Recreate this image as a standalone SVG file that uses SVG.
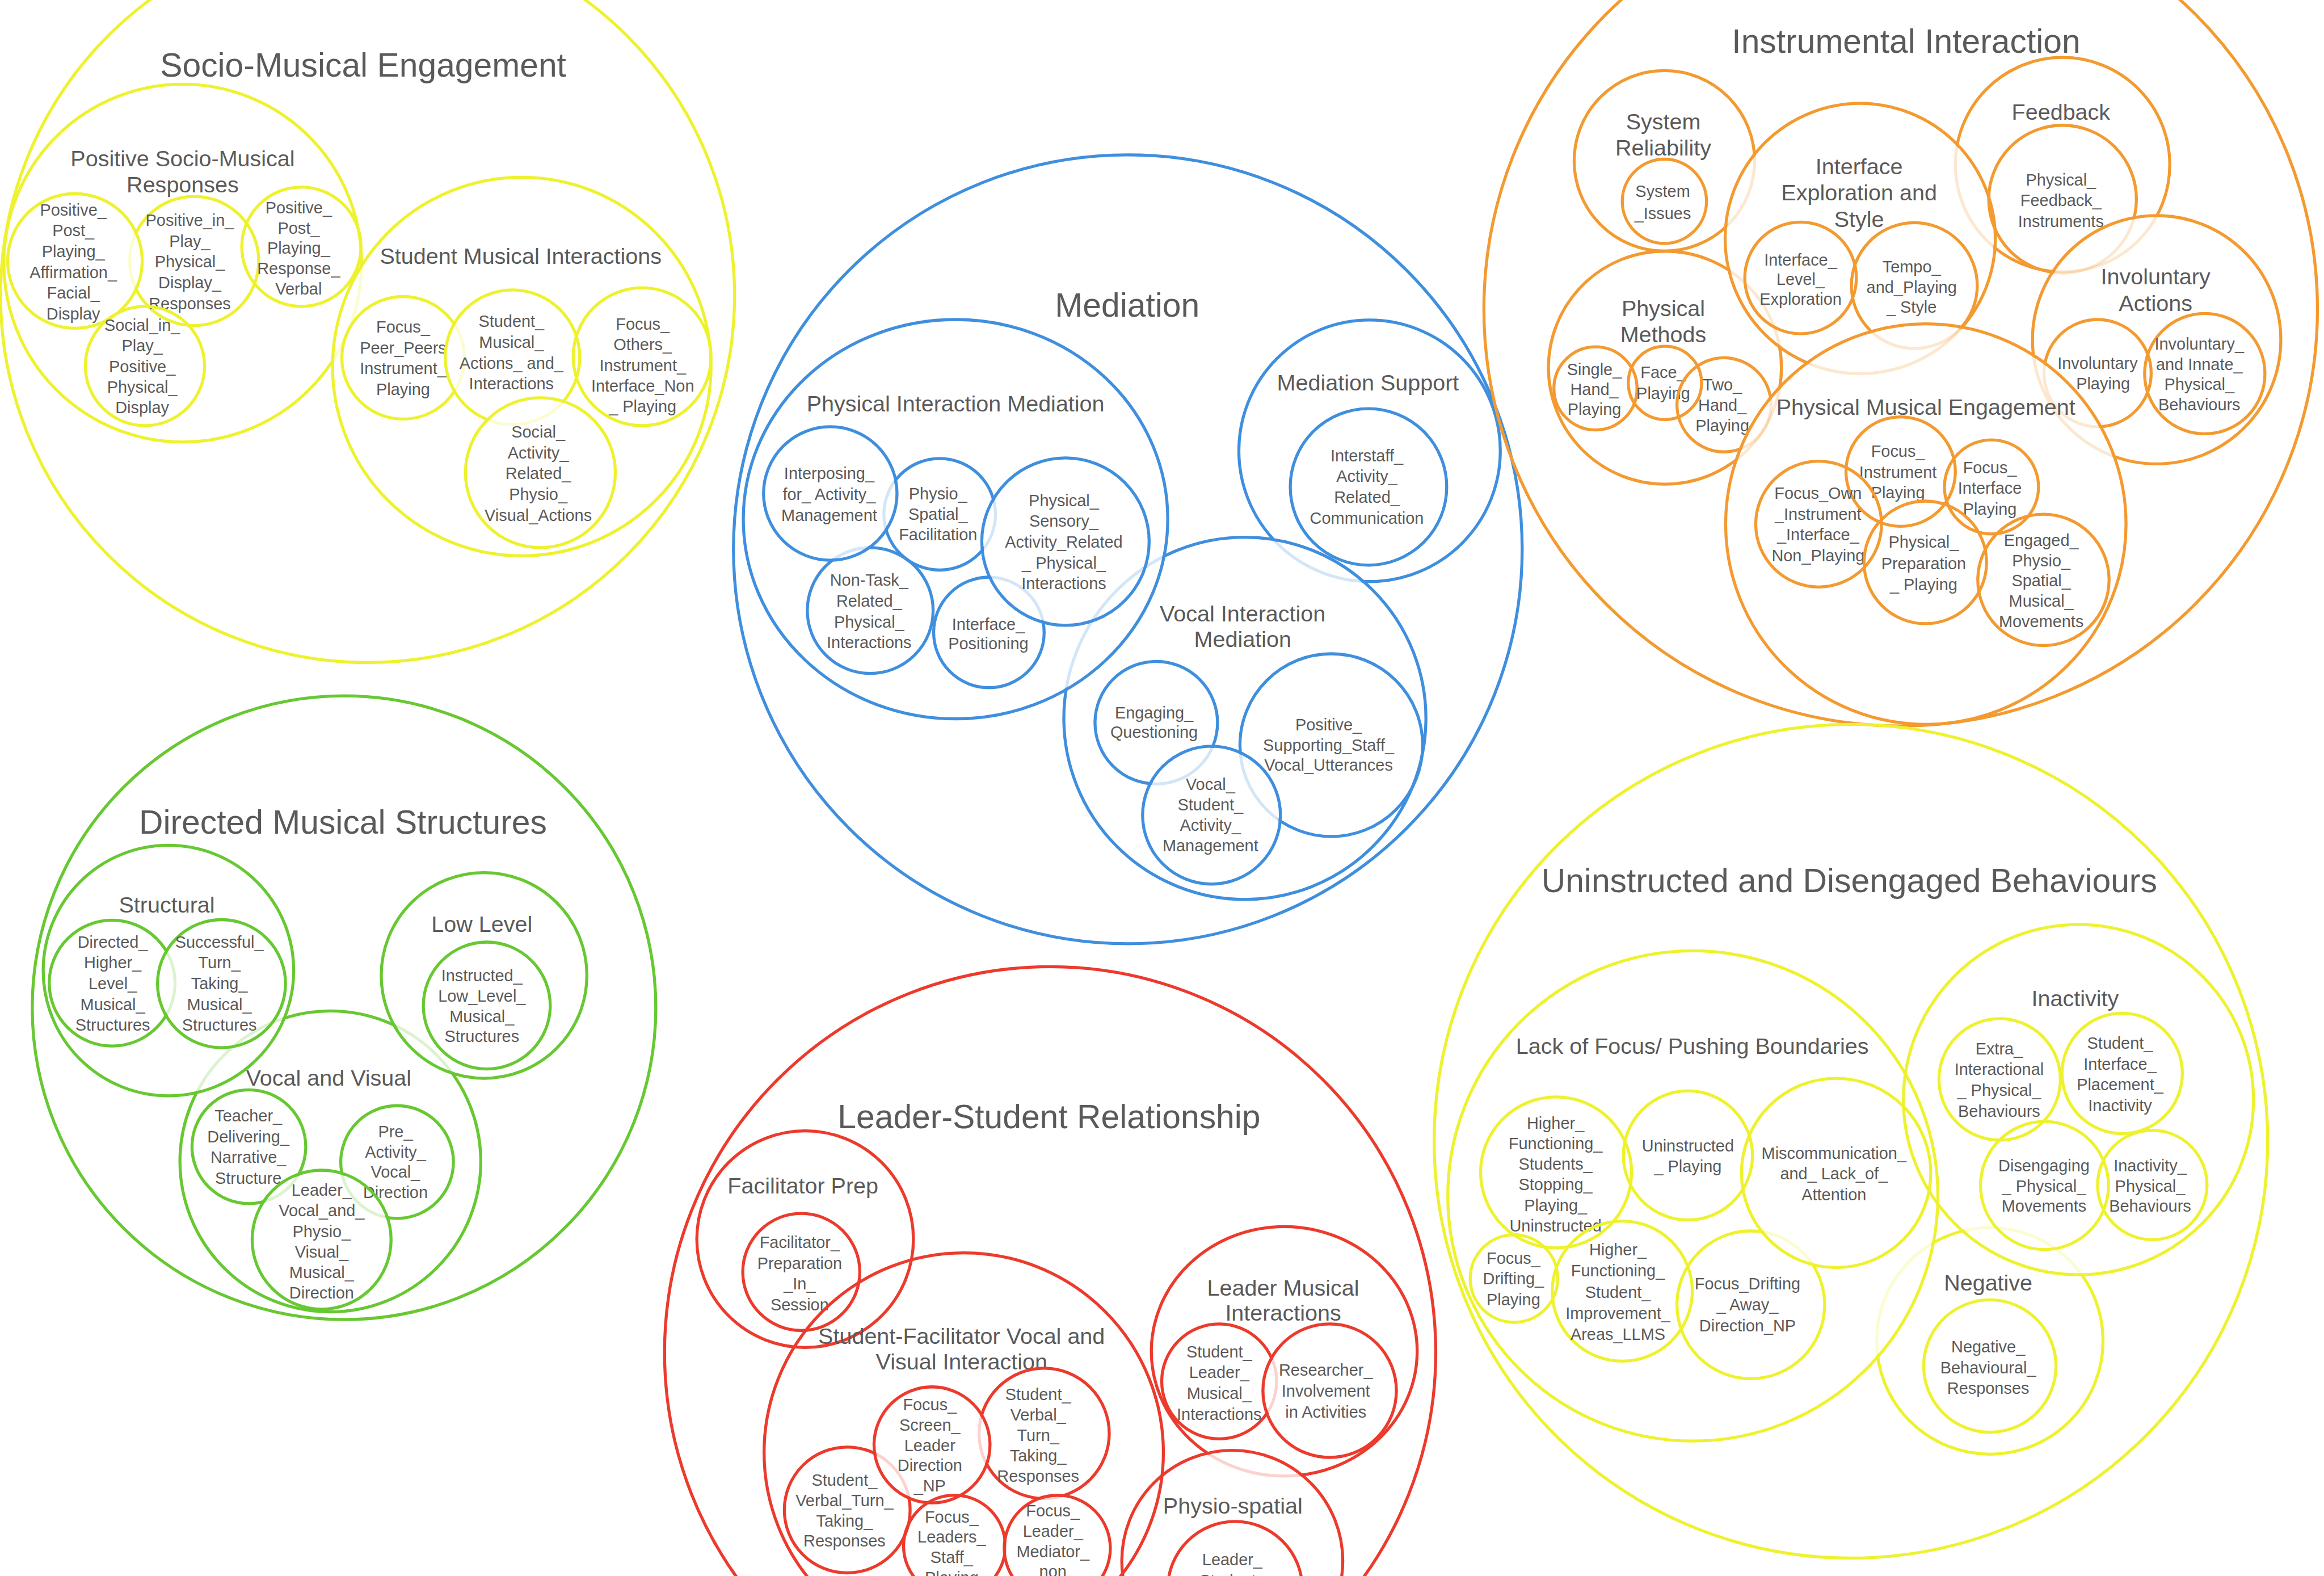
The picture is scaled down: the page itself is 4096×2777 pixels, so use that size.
<svg xmlns="http://www.w3.org/2000/svg" width="4096" height="2777" viewBox="0 0 4096 2777">
<style>
  circle, ellipse { fill: none; stroke-width: 5.5; }
  .y circle, .y ellipse { stroke: #eef22e; }
  .o circle, .o ellipse { stroke: #f39a30; }
  .b circle, .b ellipse { stroke: #3f8fde; }
  .g circle, .g ellipse { stroke: #67c832; }
  .r circle, .r ellipse { stroke: #ec3a2c; }
  mask rect { fill: #ffffff; }
  mask circle, mask ellipse { fill: #3a3a3a; stroke: none; }
  text { font-family: "Liberation Sans", Arial, Helvetica, sans-serif; fill: #5a5a5a; text-anchor: middle; }
  .t1 { font-size: 61px; }
  .t2 { font-size: 41px; }
  .t3 { font-size: 30px; }
</style>
<defs>
  <!-- outlines fade where they pass beneath a later, overlapping circle -->
  <mask id="m-psmr" maskUnits="userSpaceOnUse" x="-100" y="-100" width="4500" height="3200"><rect x="-100" y="-100" width="4500" height="3200"/><circle cx="954" cy="670" r="343"/></mask>
  <mask id="m-leaf2" maskUnits="userSpaceOnUse" x="-100" y="-100" width="4500" height="3200"><rect x="-100" y="-100" width="4500" height="3200"/><circle cx="137" cy="477" r="120"/></mask>
  <mask id="m-leaf5" maskUnits="userSpaceOnUse" x="-100" y="-100" width="4500" height="3200"><rect x="-100" y="-100" width="4500" height="3200"/><circle cx="937" cy="653" r="120"/></mask>
  <mask id="m-leaf6" maskUnits="userSpaceOnUse" x="-100" y="-100" width="4500" height="3200"><rect x="-100" y="-100" width="4500" height="3200"/><circle cx="988" cy="864" r="134"/></mask>
  <mask id="m-physio" maskUnits="userSpaceOnUse" x="-100" y="-100" width="4500" height="3200"><rect x="-100" y="-100" width="4500" height="3200"/><circle cx="1518" cy="902" r="119"/><circle cx="1948" cy="990" r="150"/></mask>
  <mask id="m-nontask" maskUnits="userSpaceOnUse" x="-100" y="-100" width="4500" height="3200"><rect x="-100" y="-100" width="4500" height="3200"/><circle cx="1518" cy="902" r="119"/></mask>
  <mask id="m-ifpos" maskUnits="userSpaceOnUse" x="-100" y="-100" width="4500" height="3200"><rect x="-100" y="-100" width="4500" height="3200"/><circle cx="1948" cy="990" r="150"/></mask>
  <mask id="m-vim" maskUnits="userSpaceOnUse" x="-100" y="-100" width="4500" height="3200"><rect x="-100" y="-100" width="4500" height="3200"/><ellipse cx="1747" cy="949" rx="385" ry="362"/></mask>
  <mask id="m-ms" maskUnits="userSpaceOnUse" x="-100" y="-100" width="4500" height="3200"><rect x="-100" y="-100" width="4500" height="3200"/><circle cx="2276" cy="1313" r="328"/></mask>
  <mask id="m-vsam" maskUnits="userSpaceOnUse" x="-100" y="-100" width="4500" height="3200"><rect x="-100" y="-100" width="4500" height="3200"/><circle cx="2215" cy="1490" r="123"/></mask>
  <mask id="m-sr" maskUnits="userSpaceOnUse" x="-100" y="-100" width="4500" height="3200"><rect x="-100" y="-100" width="4500" height="3200"/><circle cx="3401" cy="436" r="244"/></mask>
  <mask id="m-pm" maskUnits="userSpaceOnUse" x="-100" y="-100" width="4500" height="3200"><rect x="-100" y="-100" width="4500" height="3200"/><circle cx="3401" cy="436" r="244"/><circle cx="3521" cy="958" r="363"/></mask>
  <mask id="m-pme" maskUnits="userSpaceOnUse" x="-100" y="-100" width="4500" height="3200"><rect x="-100" y="-100" width="4500" height="3200"/><circle cx="3521" cy="958" r="363"/></mask>
  <mask id="m-fb" maskUnits="userSpaceOnUse" x="-100" y="-100" width="4500" height="3200"><rect x="-100" y="-100" width="4500" height="3200"/><circle cx="3401" cy="436" r="244"/><circle cx="3943" cy="621" r="224"/></mask>
  <mask id="m-pfi" maskUnits="userSpaceOnUse" x="-100" y="-100" width="4500" height="3200"><rect x="-100" y="-100" width="4500" height="3200"/><circle cx="3943" cy="621" r="224"/></mask>
  <mask id="m-vv" maskUnits="userSpaceOnUse" x="-100" y="-100" width="4500" height="3200"><rect x="-100" y="-100" width="4500" height="3200"/><circle cx="308" cy="1774" r="226"/><circle cx="885" cy="1783" r="185"/></mask>
  <mask id="m-dhlms" maskUnits="userSpaceOnUse" x="-100" y="-100" width="4500" height="3200"><rect x="-100" y="-100" width="4500" height="3200"/><circle cx="405" cy="1798" r="114"/></mask>
  <mask id="m-lvpvmd" maskUnits="userSpaceOnUse" x="-100" y="-100" width="4500" height="3200"><rect x="-100" y="-100" width="4500" height="3200"/><circle cx="588" cy="2266" r="124"/></mask>
  <mask id="m-lmi" maskUnits="userSpaceOnUse" x="-100" y="-100" width="4500" height="3200"><rect x="-100" y="-100" width="4500" height="3200"/><circle cx="2253" cy="2853" r="199"/></mask>
  <mask id="m-slmi" maskUnits="userSpaceOnUse" x="-100" y="-100" width="4500" height="3200"><rect x="-100" y="-100" width="4500" height="3200"/><circle cx="2431" cy="2542" r="119"/></mask>
  <mask id="m-svttrb" maskUnits="userSpaceOnUse" x="-100" y="-100" width="4500" height="3200"><rect x="-100" y="-100" width="4500" height="3200"/><circle cx="1704" cy="2641" r="103"/></mask>
  <mask id="m-svttra" maskUnits="userSpaceOnUse" x="-100" y="-100" width="4500" height="3200"><rect x="-100" y="-100" width="4500" height="3200"/><circle cx="1704" cy="2641" r="103"/><circle cx="1933" cy="2830" r="94"/></mask>
  <mask id="m-flsp" maskUnits="userSpaceOnUse" x="-100" y="-100" width="4500" height="3200"><rect x="-100" y="-100" width="4500" height="3200"/><circle cx="1933" cy="2830" r="94"/></mask>
  <mask id="m-neg" maskUnits="userSpaceOnUse" x="-100" y="-100" width="4500" height="3200"><rect x="-100" y="-100" width="4500" height="3200"/><circle cx="3095" cy="2186" r="445"/><circle cx="3800" cy="2010" r="317"/></mask>
  <mask id="m-fdadnp" maskUnits="userSpaceOnUse" x="-100" y="-100" width="4500" height="3200"><rect x="-100" y="-100" width="4500" height="3200"/><circle cx="3357" cy="2144" r="170"/></mask>
</defs>
<rect width="4096" height="2777" fill="#ffffff"/>
<g transform="scale(0.964)">

<!-- Socio-Musical Engagement -->
<g id="socio-musical-engagement" class="y">
  <circle cx="672" cy="540" r="671"/>
  <text class="t1" x="664" y="140">Socio-Musical Engagement</text>
  <g id="positive-socio-musical-responses">
    <circle cx="334" cy="481" r="327" mask="url(#m-psmr)"/>
    <text class="t2" x="334" y="304"><tspan x="334">Positive Socio-Musical</tspan><tspan x="334" dy="48">Responses</tspan></text>
  </g>
  <g id="positive-in-play-physical">
    <circle cx="355" cy="477" r="118" mask="url(#m-leaf2)"/>
    <text class="t3" x="347" y="413"><tspan x="347">Positive_in_</tspan><tspan x="347" dy="38">Play_</tspan><tspan x="347" dy="38">Physical_</tspan><tspan x="347" dy="38">Display_</tspan><tspan x="347" dy="38">Responses</tspan></text>
  </g>
  <g id="positive-post-playing-affirmation">
    <circle cx="137" cy="477" r="123"/>
    <text class="t3" x="134" y="394"><tspan x="134">Positive_</tspan><tspan x="134" dy="38">Post_</tspan><tspan x="134" dy="38">Playing_</tspan><tspan x="134" dy="38">Affirmation_</tspan><tspan x="134" dy="38">Facial_</tspan><tspan x="134" dy="38">Display</tspan></text>
  </g>
  <g id="positive-post-playing-verbal">
    <circle cx="551" cy="451" r="109"/>
    <text class="t3" x="546" y="390"><tspan x="546">Positive_</tspan><tspan x="546" dy="37">Post_</tspan><tspan x="546" dy="37">Playing_</tspan><tspan x="546" dy="37">Response_</tspan><tspan x="546" dy="37">Verbal</tspan></text>
  </g>
  <g id="social-in-play-positive">
    <circle cx="265" cy="669" r="109"/>
    <text class="t3" x="260" y="605"><tspan x="260">Social_in_</tspan><tspan x="260" dy="37.5">Play_</tspan><tspan x="260" dy="37.5">Positive_</tspan><tspan x="260" dy="37.5">Physical_</tspan><tspan x="260" dy="37.5">Display</tspan></text>
  </g>
  <g id="student-musical-interactions">
    <circle cx="954" cy="670" r="346"/>
    <text class="t2" x="952" y="482">Student Musical Interactions</text>
  </g>
  <g id="focus-peer-peers">
    <circle cx="737" cy="654" r="112" mask="url(#m-leaf5)"/>
    <text class="t3" x="737" y="608"><tspan x="737">Focus_</tspan><tspan x="737" dy="38">Peer_Peers</tspan><tspan x="737" dy="38">Instrument_</tspan><tspan x="737" dy="38">Playing</tspan></text>
  </g>
  <g id="student-musical-actions">
    <circle cx="937" cy="653" r="123" mask="url(#m-leaf6)"/>
    <text class="t3" x="935" y="598"><tspan x="935">Student_</tspan><tspan x="935" dy="38">Musical_</tspan><tspan x="935" dy="38">Actions_ and_</tspan><tspan x="935" dy="38">Interactions</tspan></text>
  </g>
  <g id="focus-others-instrument">
    <circle cx="1174" cy="652" r="126"/>
    <text class="t3" x="1175" y="603"><tspan x="1175">Focus_</tspan><tspan x="1175" dy="37.5">Others_</tspan><tspan x="1175" dy="37.5">Instrument_</tspan><tspan x="1175" dy="37.5">Interface_Non</tspan><tspan x="1175" dy="37.5">_ Playing</tspan></text>
  </g>
  <g id="social-activity-related">
    <circle cx="988" cy="864" r="137"/>
    <text class="t3" x="984" y="800"><tspan x="984">Social_</tspan><tspan x="984" dy="38">Activity_</tspan><tspan x="984" dy="38">Related_</tspan><tspan x="984" dy="38">Physio_</tspan><tspan x="984" dy="38">Visual_Actions</tspan></text>
  </g>
</g>

<!-- Mediation -->
<g id="mediation" class="b">
  <circle cx="2062" cy="1004" r="721"/>
  <text class="t1" x="2061" y="579">Mediation</text>
  <g id="mediation-support">
    <circle cx="2504" cy="824" r="239" mask="url(#m-ms)"/>
    <text class="t2" x="2501" y="714">Mediation Support</text>
  </g>
  <g id="interstaff-communication">
    <circle cx="2502" cy="890" r="143"/>
    <text class="t3" x="2499" y="843"><tspan x="2499">Interstaff_</tspan><tspan x="2499" dy="38">Activity_</tspan><tspan x="2499" dy="38">Related_</tspan><tspan x="2499" dy="38">Communication</tspan></text>
  </g>
  <g id="vocal-interaction-mediation">
    <circle cx="2276" cy="1313" r="331" mask="url(#m-vim)"/>
    <text class="t2" x="2272" y="1136"><tspan x="2272">Vocal Interaction</tspan><tspan x="2272" dy="47">Mediation</tspan></text>
  </g>
  <g id="engaging-questioning">
    <circle cx="2114" cy="1321" r="112" mask="url(#m-vsam)"/>
    <text class="t3" x="2110" y="1313"><tspan x="2110">Engaging_</tspan><tspan x="2110" dy="36">Questioning</tspan></text>
  </g>
  <g id="positive-supporting-staff">
    <circle cx="2434" cy="1362" r="167" mask="url(#m-vsam)"/>
    <text class="t3" x="2429" y="1335"><tspan x="2429">Positive_</tspan><tspan x="2429" dy="37">Supporting_Staff_</tspan><tspan x="2429" dy="37">Vocal_Utterances</tspan></text>
  </g>
  <g id="vocal-student-activity">
    <circle cx="2215" cy="1490" r="126"/>
    <text class="t3" x="2213" y="1444"><tspan x="2213">Vocal_</tspan><tspan x="2213" dy="37.5">Student_</tspan><tspan x="2213" dy="37.5">Activity_</tspan><tspan x="2213" dy="37.5">Management</tspan></text>
  </g>
  <g id="physical-interaction-mediation">
    <ellipse cx="1747" cy="949" rx="388" ry="365"/>
    <text class="t2" x="1747" y="752">Physical Interaction Mediation</text>
  </g>
  <g id="physio-spatial-facilitation">
    <circle cx="1718" cy="940" r="102" mask="url(#m-physio)"/>
    <text class="t3" x="1715" y="913"><tspan x="1715">Physio_</tspan><tspan x="1715" dy="37.5">Spatial_</tspan><tspan x="1715" dy="37.5">Facilitation</tspan></text>
  </g>
  <g id="non-task-related">
    <circle cx="1591" cy="1116" r="115" mask="url(#m-nontask)"/>
    <text class="t3" x="1589" y="1071"><tspan x="1589">Non-Task_</tspan><tspan x="1589" dy="38">Related_</tspan><tspan x="1589" dy="38">Physical_</tspan><tspan x="1589" dy="38">Interactions</tspan></text>
  </g>
  <g id="interface-positioning">
    <circle cx="1808" cy="1156" r="101" mask="url(#m-ifpos)"/>
    <text class="t3" x="1807" y="1151"><tspan x="1807">Interface_</tspan><tspan x="1807" dy="36">Positioning</tspan></text>
  </g>
  <g id="interposing-for-activity">
    <circle cx="1518" cy="902" r="122"/>
    <text class="t3" x="1516" y="876"><tspan x="1516">Interposing_</tspan><tspan x="1516" dy="38">for_ Activity_</tspan><tspan x="1516" dy="38">Management</tspan></text>
  </g>
  <g id="physical-sensory-activity">
    <circle cx="1948" cy="990" r="153"/>
    <text class="t3" x="1945" y="925"><tspan x="1945">Physical_</tspan><tspan x="1945" dy="38">Sensory_</tspan><tspan x="1945" dy="38">Activity_Related</tspan><tspan x="1945" dy="38">_ Physical_</tspan><tspan x="1945" dy="38">Interactions</tspan></text>
  </g>
</g>

<!-- Instrumental Interaction -->
<g id="instrumental-interaction" class="o">
  <circle cx="3475" cy="565" r="762"/>
  <text class="t1" x="3485" y="96">Instrumental Interaction</text>
  <g id="system-reliability">
    <circle cx="3043" cy="294" r="165" mask="url(#m-sr)"/>
    <text class="t2" x="3041" y="236"><tspan x="3041">System</tspan><tspan x="3041" dy="48">Reliability</tspan></text>
  </g>
  <g id="system-issues">
    <circle cx="3043" cy="368" r="77"/>
    <text class="t3" x="3040" y="360"><tspan x="3040">System</tspan><tspan x="3040" dy="40">_Issues</tspan></text>
  </g>
  <g id="physical-methods">
    <circle cx="3044" cy="672" r="213" mask="url(#m-pm)"/>
    <text class="t2" x="3041" y="578"><tspan x="3041">Physical</tspan><tspan x="3041" dy="47">Methods</tspan></text>
  </g>
  <g id="single-hand-playing">
    <circle cx="2917" cy="710" r="76"/>
    <text class="t3" x="2915" y="686"><tspan x="2915">Single_</tspan><tspan x="2915" dy="36">Hand_</tspan><tspan x="2915" dy="36">Playing</tspan></text>
  </g>
  <g id="face-playing">
    <circle cx="3044" cy="700" r="67"/>
    <text class="t3" x="3041" y="691"><tspan x="3041">Face_</tspan><tspan x="3041" dy="38">Playing</tspan></text>
  </g>
  <g id="two-hand-playing">
    <circle cx="3152" cy="740" r="86" mask="url(#m-pme)"/>
    <text class="t3" x="3149" y="714"><tspan x="3149">Two_</tspan><tspan x="3149" dy="37">Hand_</tspan><tspan x="3149" dy="37">Playing</tspan></text>
  </g>
  <g id="feedback">
    <circle cx="3771" cy="301" r="196" mask="url(#m-fb)"/>
    <text class="t2" x="3768" y="219">Feedback</text>
  </g>
  <g id="physical-feedback-instruments">
    <circle cx="3771" cy="364" r="135" mask="url(#m-pfi)"/>
    <text class="t3" x="3768" y="339"><tspan x="3768">Physical_</tspan><tspan x="3768" dy="38">Feedback_</tspan><tspan x="3768" dy="38">Instruments</tspan></text>
  </g>
  <g id="interface-exploration-style">
    <circle cx="3401" cy="436" r="247" mask="url(#m-pme)"/>
    <text class="t2" x="3399" y="318"><tspan x="3399">Interface</tspan><tspan x="3399" dy="48">Exploration and</tspan><tspan x="3399" dy="49">Style</tspan></text>
  </g>
  <g id="interface-level-exploration">
    <circle cx="3292" cy="508" r="102"/>
    <text class="t3" x="3292" y="485"><tspan x="3292">Interface_</tspan><tspan x="3292" dy="36">Level_</tspan><tspan x="3292" dy="36">Exploration</tspan></text>
  </g>
  <g id="tempo-playing-style">
    <circle cx="3500" cy="522" r="115" mask="url(#m-pme)"/>
    <text class="t3" x="3495" y="498"><tspan x="3495">Tempo_</tspan><tspan x="3495" dy="37">and_Playing</tspan><tspan x="3495" dy="37">_ Style</tspan></text>
  </g>
  <g id="involuntary-actions">
    <circle cx="3943" cy="621" r="227" mask="url(#m-pme)"/>
    <text class="t2" x="3941" y="520"><tspan x="3941">Involuntary</tspan><tspan x="3941" dy="48">Actions</tspan></text>
  </g>
  <g id="involuntary-playing">
    <circle cx="3835" cy="682" r="98" mask="url(#m-pme)"/>
    <text class="t3" x="3835" y="674"><tspan x="3835">Involuntary</tspan><tspan x="3845" dy="38">Playing</tspan></text>
  </g>
  <g id="involuntary-innate-behaviours">
    <circle cx="4031" cy="683" r="110"/>
    <text class="t3" x="4021" y="639"><tspan x="4021">Involuntary_</tspan><tspan x="4021" dy="37">and Innate_</tspan><tspan x="4021" dy="37">Physical_</tspan><tspan x="4021" dy="37">Behaviours</tspan></text>
  </g>
  <g id="physical-musical-engagement">
    <circle cx="3521" cy="958" r="366"/>
    <text class="t2" x="3521" y="758">Physical Musical Engagement</text>
  </g>
  <g id="focus-instrument-playing">
    <circle cx="3475" cy="862" r="100"/>
    <text class="t3" x="3470" y="835"><tspan x="3470">Focus_</tspan><tspan x="3470" dy="38">Instrument</tspan><tspan x="3470" dy="38">Playing</tspan></text>
  </g>
  <g id="focus-interface-playing">
    <circle cx="3641" cy="890" r="86"/>
    <text class="t3" x="3638" y="865"><tspan x="3638">Focus_</tspan><tspan x="3638" dy="38">Interface</tspan><tspan x="3638" dy="38">Playing</tspan></text>
  </g>
  <g id="focus-own-instrument">
    <circle cx="3325" cy="958" r="115"/>
    <text class="t3" x="3324" y="912"><tspan x="3324">Focus_Own</tspan><tspan x="3324" dy="38">_Instrument</tspan><tspan x="3324" dy="38">_Interface_</tspan><tspan x="3324" dy="38">Non_Playing</tspan></text>
  </g>
  <g id="physical-preparation-playing">
    <circle cx="3520" cy="1028" r="112"/>
    <text class="t3" x="3517" y="1001"><tspan x="3517">Physical_</tspan><tspan x="3517" dy="39">Preparation</tspan><tspan x="3517" dy="39">_ Playing</tspan></text>
  </g>
  <g id="engaged-physio-spatial">
    <circle cx="3736" cy="1060" r="120"/>
    <text class="t3" x="3732" y="998"><tspan x="3732">Engaged_</tspan><tspan x="3732" dy="37">Physio_</tspan><tspan x="3732" dy="37">Spatial_</tspan><tspan x="3732" dy="37">Musical_</tspan><tspan x="3732" dy="37">Movements</tspan></text>
  </g>
</g>

<!-- Directed Musical Structures -->
<g id="directed-musical-structures" class="g">
  <circle cx="629" cy="1842" r="570"/>
  <text class="t1" x="627" y="1524">Directed Musical Structures</text>
  <g id="vocal-and-visual">
    <circle cx="604" cy="2123" r="275" mask="url(#m-vv)"/>
    <text class="t2" x="601" y="1984">Vocal and Visual</text>
  </g>
  <g id="teacher-delivering-narrative">
    <circle cx="455" cy="2096" r="104" mask="url(#m-lvpvmd)"/>
    <text class="t3" x="454" y="2050"><tspan x="454">Teacher_</tspan><tspan x="454" dy="38">Delivering_</tspan><tspan x="454" dy="38">Narrative_</tspan><tspan x="454" dy="38">Structure</tspan></text>
  </g>
  <g id="pre-activity-vocal">
    <circle cx="726" cy="2124" r="103" mask="url(#m-lvpvmd)"/>
    <text class="t3" x="723" y="2079"><tspan x="723">Pre_</tspan><tspan x="723" dy="37">Activity_</tspan><tspan x="723" dy="37">Vocal_</tspan><tspan x="723" dy="37">Direction</tspan></text>
  </g>
  <g id="leader-vocal-physio-visual">
    <circle cx="588" cy="2266" r="127"/>
    <text class="t3" x="588" y="2186"><tspan x="588">Leader_</tspan><tspan x="588" dy="37.5">Vocal_and_</tspan><tspan x="588" dy="37.5">Physio_</tspan><tspan x="588" dy="37.5">Visual_</tspan><tspan x="588" dy="37.5">Musical_</tspan><tspan x="588" dy="37.5">Direction</tspan></text>
  </g>
  <g id="structural">
    <circle cx="308" cy="1774" r="229"/>
    <text class="t2" x="305" y="1668">Structural</text>
  </g>
  <g id="directed-higher-level">
    <circle cx="205" cy="1797" r="115" mask="url(#m-dhlms)"/>
    <text class="t3" x="206" y="1732"><tspan x="206">Directed_</tspan><tspan x="206" dy="38">Higher_</tspan><tspan x="206" dy="38">Level_</tspan><tspan x="206" dy="38">Musical_</tspan><tspan x="206" dy="38">Structures</tspan></text>
  </g>
  <g id="successful-turn-taking">
    <circle cx="405" cy="1798" r="117"/>
    <text class="t3" x="401" y="1732"><tspan x="401">Successful_</tspan><tspan x="401" dy="38">Turn_</tspan><tspan x="401" dy="38">Taking_</tspan><tspan x="401" dy="38">Musical_</tspan><tspan x="401" dy="38">Structures</tspan></text>
  </g>
  <g id="low-level">
    <circle cx="885" cy="1783" r="188"/>
    <text class="t2" x="881" y="1703">Low Level</text>
  </g>
  <g id="instructed-low-level">
    <circle cx="890" cy="1838" r="116"/>
    <text class="t3" x="881" y="1794"><tspan x="881">Instructed_</tspan><tspan x="881" dy="37">Low_Level_</tspan><tspan x="881" dy="37">Musical_</tspan><tspan x="881" dy="37">Structures</tspan></text>
  </g>
</g>

<!-- Leader-Student Relationship -->
<g id="leader-student-relationship" class="r">
  <circle cx="1920" cy="2472" r="705"/>
  <text class="t1" x="1918" y="2062">Leader-Student Relationship</text>
  <g id="facilitator-prep">
    <circle cx="1472" cy="2265" r="198"/>
    <text class="t2" x="1468" y="2182">Facilitator Prep</text>
  </g>
  <g id="facilitator-preparation-in-session">
    <circle cx="1465" cy="2325" r="107"/>
    <text class="t3" x="1462" y="2281"><tspan x="1462">Facilitator_</tspan><tspan x="1462" dy="38">Preparation</tspan><tspan x="1462" dy="38">_In_</tspan><tspan x="1462" dy="38">Session</tspan></text>
  </g>
  <g id="student-facilitator-vocal-visual">
    <circle cx="1762" cy="2655" r="365"/>
    <text class="t2" x="1758" y="2456"><tspan x="1758">Student-Facilitator Vocal and</tspan><tspan x="1758" dy="47">Visual Interaction</tspan></text>
  </g>
  <g id="student-verbal-turn-taking-b">
    <circle cx="1549" cy="2760" r="115" mask="url(#m-svttrb)"/>
    <text class="t3" x="1544" y="2716"><tspan x="1544">Student_</tspan><tspan x="1544" dy="37">Verbal_Turn_</tspan><tspan x="1544" dy="37">Taking_</tspan><tspan x="1544" dy="37">Responses</tspan></text>
  </g>
  <g id="student-verbal-turn-taking-a">
    <circle cx="1909" cy="2620" r="119" mask="url(#m-svttra)"/>
    <text class="t3" x="1898" y="2559"><tspan x="1898">Student_</tspan><tspan x="1898" dy="37.5">Verbal_</tspan><tspan x="1898" dy="37.5">Turn_</tspan><tspan x="1898" dy="37.5">Taking_</tspan><tspan x="1898" dy="37.5">Responses</tspan></text>
  </g>
  <g id="focus-leaders-staff-playing">
    <circle cx="1745" cy="2826" r="93" mask="url(#m-flsp)"/>
    <text class="t3" x="1740" y="2783"><tspan x="1740">Focus_</tspan><tspan x="1740" dy="37">Leaders_</tspan><tspan x="1740" dy="37">Staff_</tspan><tspan x="1740" dy="37">Playing</tspan></text>
  </g>
  <g id="focus-screen-leader-direction">
    <circle cx="1704" cy="2641" r="106"/>
    <text class="t3" x="1700" y="2578"><tspan x="1700">Focus_</tspan><tspan x="1700" dy="37">Screen_</tspan><tspan x="1700" dy="37">Leader</tspan><tspan x="1700" dy="37">Direction</tspan><tspan x="1700" dy="37">_NP</tspan></text>
  </g>
  <g id="focus-leader-mediator">
    <circle cx="1933" cy="2830" r="97"/>
    <text class="t3" x="1925" y="2772"><tspan x="1925">Focus_</tspan><tspan x="1925" dy="37">Leader_</tspan><tspan x="1925" dy="37">Mediator_</tspan><tspan x="1925" dy="37">non</tspan></text>
  </g>
  <g id="leader-musical-interactions">
    <ellipse cx="2348" cy="2470" rx="243" ry="228" mask="url(#m-lmi)"/>
    <text class="t2" x="2346" y="2368"><tspan x="2346">Leader Musical</tspan><tspan x="2346" dy="46">Interactions</tspan></text>
  </g>
  <g id="student-leader-musical">
    <circle cx="2229" cy="2525" r="105" mask="url(#m-slmi)"/>
    <text class="t3" x="2229" y="2481"><tspan x="2229">Student_</tspan><tspan x="2229" dy="38">Leader_</tspan><tspan x="2229" dy="38">Musical_</tspan><tspan x="2229" dy="38">Interactions</tspan></text>
  </g>
  <g id="researcher-involvement">
    <circle cx="2431" cy="2542" r="122"/>
    <text class="t3" x="2424" y="2515"><tspan x="2424">Researcher_</tspan><tspan x="2424" dy="38">Involvement</tspan><tspan x="2424" dy="38">in Activities</tspan></text>
  </g>
  <g id="physio-spatial">
    <circle cx="2253" cy="2853" r="202"/>
    <text class="t2" x="2254" y="2767">Physio-spatial</text>
  </g>
  <g id="leader-student">
    <circle cx="2258" cy="2904" r="123"/>
    <text class="t3" x="2253" y="2861"><tspan x="2253">Leader_</tspan><tspan x="2253" dy="38">Student_</tspan></text>
  </g>
</g>

<!-- Uninstructed and Disengaged Behaviours -->
<g id="uninstructed-disengaged" class="y">
  <circle cx="3384" cy="2086" r="762"/>
  <text class="t1" x="3381" y="1631">Uninstructed and Disengaged Behaviours</text>
  <g id="negative">
    <circle cx="3638" cy="2451" r="207" mask="url(#m-neg)"/>
    <text class="t2" x="3635" y="2359">Negative</text>
  </g>
  <g id="negative-behavioural">
    <circle cx="3638" cy="2497" r="121"/>
    <text class="t3" x="3635" y="2472"><tspan x="3635">Negative_</tspan><tspan x="3635" dy="38">Behavioural_</tspan><tspan x="3635" dy="38">Responses</tspan></text>
  </g>
  <g id="lack-of-focus">
    <circle cx="3095" cy="2186" r="448"/>
    <text class="t2" x="3094" y="1926">Lack of Focus/ Pushing Boundaries</text>
  </g>
  <g id="higher-functioning-stopping">
    <circle cx="2845" cy="2143" r="138"/>
    <text class="t3" x="2844" y="2063"><tspan x="2844">Higher_</tspan><tspan x="2844" dy="37.6">Functioning_</tspan><tspan x="2844" dy="37.6">Students_</tspan><tspan x="2844" dy="37.6">Stopping_</tspan><tspan x="2844" dy="37.6">Playing_</tspan><tspan x="2844" dy="37.6">Uninstructed</tspan></text>
  </g>
  <g id="uninstructed-playing">
    <circle cx="3086" cy="2112" r="118"/>
    <text class="t3" x="3086" y="2105"><tspan x="3086">Uninstructed</tspan><tspan x="3086" dy="37">_ Playing</tspan></text>
  </g>
  <g id="focus-drifting-playing">
    <circle cx="2768" cy="2337" r="80"/>
    <text class="t3" x="2767" y="2310"><tspan x="2767">Focus_</tspan><tspan x="2767" dy="38">Drifting_</tspan><tspan x="2767" dy="38">Playing</tspan></text>
  </g>
  <g id="higher-functioning-improvement">
    <circle cx="2966" cy="2360" r="128"/>
    <text class="t3" x="2958" y="2295"><tspan x="2958">Higher_</tspan><tspan x="2958" dy="38.5">Functioning_</tspan><tspan x="2958" dy="38.5">Student_</tspan><tspan x="2958" dy="38.5">Improvement_</tspan><tspan x="2958" dy="38.5">Areas_LLMS</tspan></text>
  </g>
  <g id="focus-drifting-away">
    <circle cx="3201" cy="2385" r="135" mask="url(#m-fdadnp)"/>
    <text class="t3" x="3195" y="2357"><tspan x="3195">Focus_Drifting</tspan><tspan x="3195" dy="38.5">_ Away_</tspan><tspan x="3195" dy="38.5">Direction_NP</tspan></text>
  </g>
  <g id="miscommunication">
    <circle cx="3357" cy="2144" r="173"/>
    <text class="t3" x="3353" y="2118"><tspan x="3353">Miscommunication_</tspan><tspan x="3353" dy="38">and_ Lack_of_</tspan><tspan x="3353" dy="38">Attention</tspan></text>
  </g>
  <g id="inactivity">
    <circle cx="3800" cy="2010" r="320"/>
    <text class="t2" x="3794" y="1839">Inactivity</text>
  </g>
  <g id="extra-interactional">
    <circle cx="3656" cy="1973" r="111"/>
    <text class="t3" x="3655" y="1927"><tspan x="3655">Extra_</tspan><tspan x="3655" dy="38">Interactional</tspan><tspan x="3655" dy="38">_ Physical_</tspan><tspan x="3655" dy="38">Behaviours</tspan></text>
  </g>
  <g id="student-interface-placement">
    <circle cx="3880" cy="1962" r="110"/>
    <text class="t3" x="3876" y="1917"><tspan x="3876">Student_</tspan><tspan x="3876" dy="38">Interface_</tspan><tspan x="3876" dy="38">Placement_</tspan><tspan x="3876" dy="38">Inactivity</tspan></text>
  </g>
  <g id="disengaging-movements">
    <circle cx="3738" cy="2167" r="117"/>
    <text class="t3" x="3737" y="2141"><tspan x="3737">Disengaging</tspan><tspan x="3737" dy="37">_ Physical_</tspan><tspan x="3737" dy="37">Movements</tspan></text>
  </g>
  <g id="inactivity-physical">
    <circle cx="3935" cy="2166" r="100"/>
    <text class="t3" x="3931" y="2141"><tspan x="3931">Inactivity_</tspan><tspan x="3931" dy="37">Physical_</tspan><tspan x="3931" dy="37">Behaviours</tspan></text>
  </g>
</g>

</g>
</svg>
